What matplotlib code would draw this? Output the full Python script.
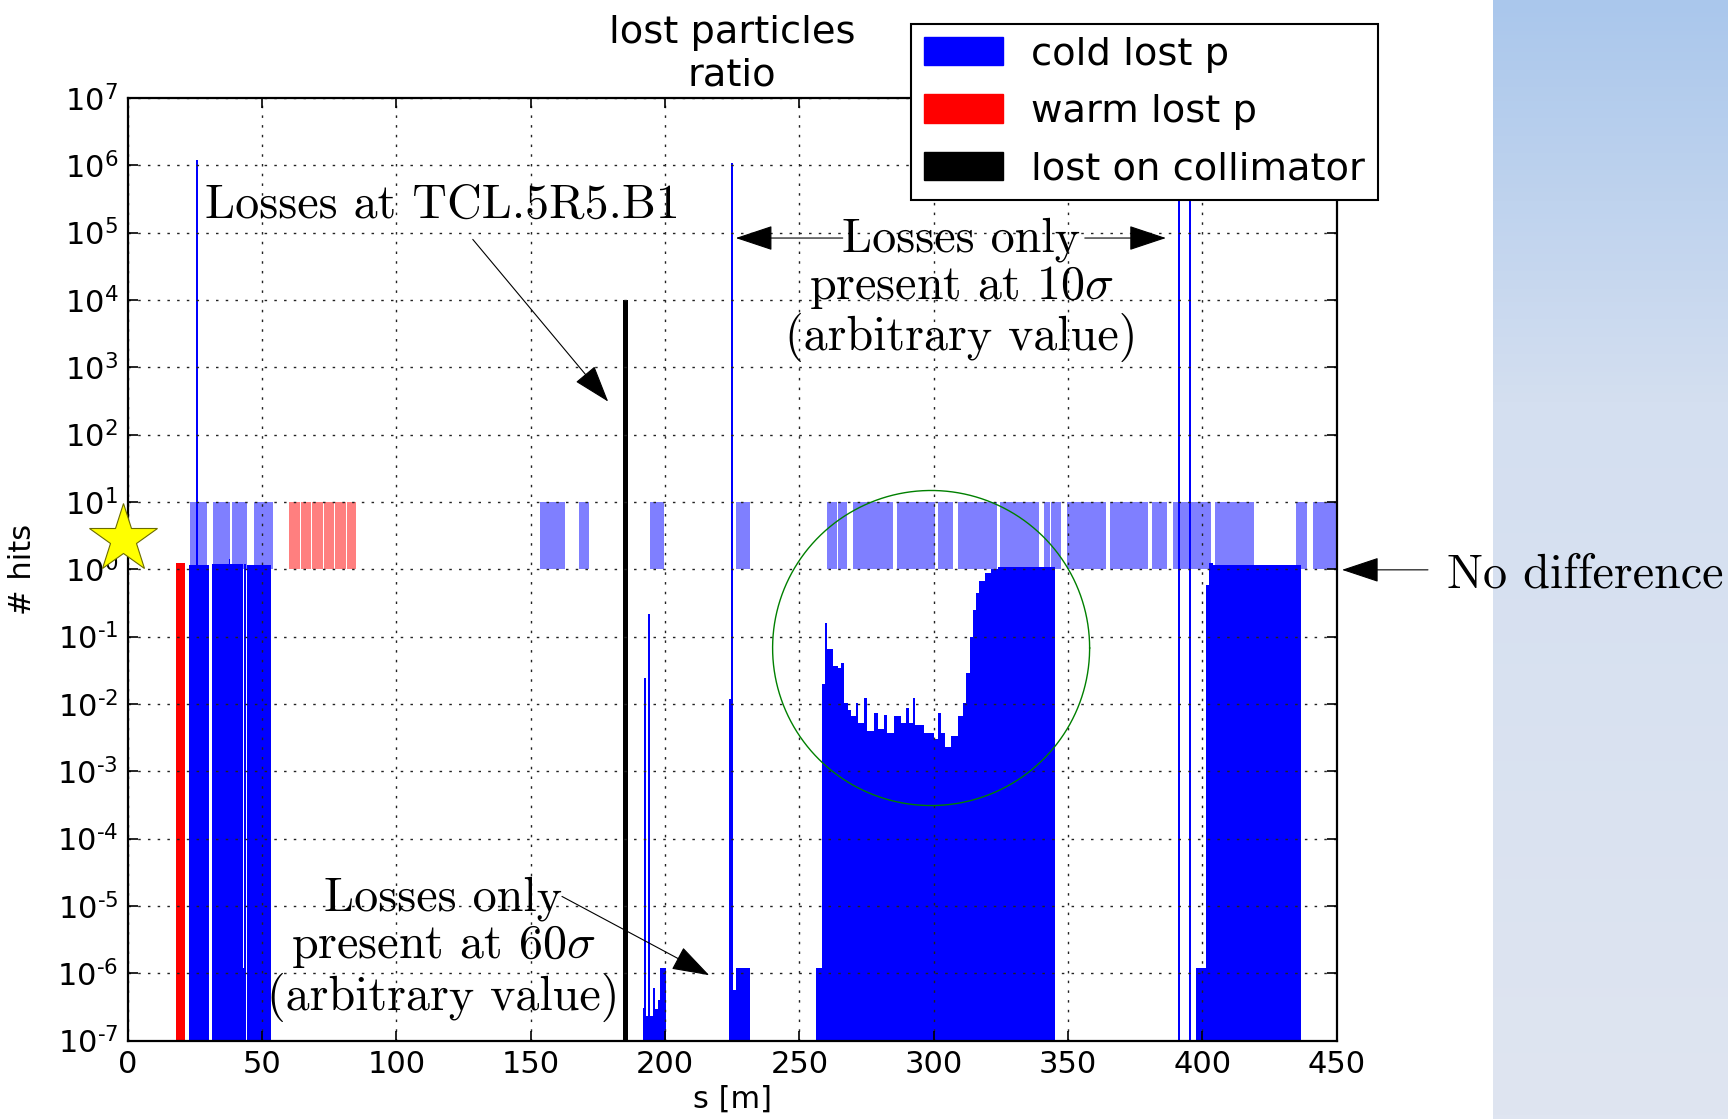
import numpy as np
import matplotlib
matplotlib.use("Agg")
import matplotlib.pyplot as plt
from matplotlib.patches import Patch
from matplotlib.ticker import FixedLocator, FuncFormatter, MultipleLocator
from matplotlib.colors import LinearSegmentedColormap

# ---------------- data ----------------
X_RANGE = (0, 450)
Y_RANGE = (1e-7, 1e7)

# warm lost p
warm_left = [18.0]
warm_right = [21.2]
warm_val = [1.22]

# cold lost p (histogram segments)
cold_left = [22.6, 25.5, 26.2, 31.3, 37.6, 38.2, 42.8, 43.1, 44.5,
             191.8, 192.2, 192.9, 193.5, 194.3, 195.3, 196.3, 197.4, 198.1,
             223.9, 224.7, 225.3, 226.4,
             256.3, 258.3, 259.4, 260.4, 262.6, 264.2, 265.5, 266.7, 268.0, 269.2,
             271.1, 271.7, 274.2, 275.2, 277.9, 279.1, 281.6, 282.6, 285.3, 287.8,
             289.7, 290.9, 292.2, 293.0, 296.5, 300.2, 301.7, 302.7, 304.0, 306.5,
             308.9, 310.8, 312.0, 313.3, 314.5, 315.8, 317.0, 318.9, 321.4, 323.9,
             390.8, 395.0, 397.5, 401.2, 402.4, 404.0]
cold_right = [25.5, 26.2, 30.4, 37.6, 38.2, 42.8, 43.1, 44.0, 53.2,
              192.2, 192.9, 193.5, 194.3, 195.3, 196.3, 197.4, 198.1, 200.2,
              224.7, 225.3, 226.4, 231.7,
              258.3, 259.4, 260.4, 262.6, 264.2, 265.5, 266.7, 268.0, 269.2, 271.1,
              271.7, 274.2, 275.2, 277.9, 279.1, 281.6, 282.6, 285.3, 287.8, 289.7,
              290.9, 292.2, 293.0, 296.5, 300.2, 301.7, 302.7, 304.0, 306.5, 308.9,
              310.8, 312.0, 313.3, 314.5, 315.8, 317.0, 318.9, 321.4, 323.9, 345.0,
              391.5, 395.7, 401.2, 402.4, 404.0, 436.8]
cold_val = [1.16, 1.2e6, 1.16, 1.18, 1.40, 1.18, 1.2e-6, 1.18, 1.16,
            3.0e-7, 0.024, 2.3e-7, 0.22, 2.3e-7, 6.0e-7, 2.9e-7, 4.0e-7, 1.2e-6,
            0.012, 1.1e6, 5.7e-7, 1.2e-6,
            1.2e-6, 0.020, 0.16, 0.065, 0.036, 0.034, 0.041, 0.0102, 0.0081, 0.0066,
            0.0102, 0.0052, 0.0123, 0.0039, 0.0072, 0.0042, 0.0069, 0.0037, 0.0066, 0.0052,
            0.0087, 0.0052, 0.0123, 0.0049, 0.0037, 0.0030, 0.0072, 0.0037, 0.0023, 0.0033,
            0.0066, 0.0102, 0.029, 0.10, 0.25, 0.44, 0.66, 0.87, 1.00, 1.07,
            1.1e6, 1.1e6, 1.2e-6, 0.58, 1.25, 1.14]

# lost on collimator
coll_pos = [185.2]
coll_width = [2.0]
coll_val = [1.0e4]

# "difference" markers between 10^0 and 10^1
DIFF_LOW, DIFF_HIGH = 1.0, 10.0
diff_cold_left = [23.1, 31.8, 38.9, 47.0, 153.5, 168.0, 194.5, 226.5, 260.4, 264.4,
                  270.1, 286.2, 301.7, 309.0, 324.8, 341.2, 343.7, 349.7, 365.5, 381.2,
                  389.0, 404.6, 434.8, 441.2]
diff_cold_right = [29.5, 37.9, 44.3, 53.9, 162.8, 171.5, 199.5, 231.5, 263.9, 267.7,
                   284.7, 300.5, 307.2, 323.6, 339.1, 343.2, 347.5, 364.0, 379.8, 386.7,
                   403.2, 419.0, 439.0, 450.0]
diff_warm_left = [60.1, 64.4, 68.7, 73.1, 77.3, 81.5]
diff_warm_right = [64.0, 68.3, 72.7, 76.9, 81.1, 85.0]

legend_labels = ["cold lost p", "warm lost p", "lost on collimator"]

# ---------------- figure ----------------
plt.rcParams["font.family"] = ["DejaVu Sans"]
plt.rcParams["axes.unicode_minus"] = False

fig = plt.figure(figsize=(17.28, 11.19), dpi=100)

# slide background panel on the right
bg = fig.add_axes([1493 / 1728, 0, 1 - 1493 / 1728, 1], zorder=-5)
cmap_bg = LinearSegmentedColormap.from_list(
    "bg", [(0.0, "#dfe5f1"), (0.64, "#d4dff0"), (1.0, "#aac7ec")])
bg.imshow(np.linspace(0, 1, 256).reshape(-1, 1), origin="lower", cmap=cmap_bg,
          aspect="auto", extent=[0, 1, 0, 1])
bg.set_axis_off()

ax = fig.add_axes([0.07396, 0.07015, 0.69965, 0.84227])
ax.set_yscale("log")

BLUE = "#0000ff"
RED = "#ff0000"

def edges(lft, rgt):
    lft = np.asarray(lft, float)
    return lft, np.asarray(rgt, float) - lft

# light difference bands
l, w = edges(diff_cold_left, diff_cold_right)
ax.bar(l, DIFF_HIGH - DIFF_LOW, width=w, bottom=DIFF_LOW, align="edge",
       color=BLUE, alpha=0.5, linewidth=0, zorder=0.8)
l, w = edges(diff_warm_left, diff_warm_right)
ax.bar(l, DIFF_HIGH - DIFF_LOW, width=w, bottom=DIFF_LOW, align="edge",
       color=RED, alpha=0.5, linewidth=0, zorder=0.8)

# loss histograms
ymin = Y_RANGE[0]
l, w = edges(cold_left, cold_right)
ax.bar(l, np.asarray(cold_val) - ymin, width=w, bottom=ymin, align="edge",
       color=BLUE, linewidth=0, zorder=1)
l, w = edges(warm_left, warm_right)
ax.bar(l, np.asarray(warm_val) - ymin, width=w, bottom=ymin, align="edge",
       color=RED, linewidth=0, zorder=1)
ax.bar(coll_pos, np.asarray(coll_val) - ymin, width=coll_width, bottom=ymin,
       align="center", color="black", linewidth=0, zorder=1.1)

# green circle
t = np.linspace(0, 2 * np.pi, 500)
ax.plot(299.0 + 59.0 * np.cos(t), 10 ** (-1.17 + 2.34 * np.sin(t)),
        color="#008000", lw=1.0, zorder=2)

ax.set_xlim(*X_RANGE)
ax.set_ylim(*Y_RANGE)

# ticks, grid
ax.xaxis.set_major_locator(MultipleLocator(50))
ax.yaxis.set_major_locator(FixedLocator([10.0 ** k for k in range(-7, 8)]))
ax.yaxis.set_minor_locator(FixedLocator([]))

def logfmt(v, pos):
    e = int(round(np.log10(v)))
    if e < 0:
        return r"$\mathdefault{10^{\text{-}%d}}$" % (-e)
    return r"$\mathdefault{10^{%d}}$" % e

ax.yaxis.set_major_formatter(FuncFormatter(logfmt))
ax.tick_params(which="both", direction="in", top=True, right=True,
               length=7, width=1.2, labelsize=22, pad=7, colors="black")
ax.tick_params(axis="y", which="minor", length=0)
for sp in ax.spines.values():
    sp.set_linewidth(1.6)
ax.grid(True, which="major", color="#222222", linestyle=(0, (1.8, 5.2)), linewidth=1.0)

ax.set_title("lost particles\nratio", fontsize=27.6, pad=9, linespacing=1.25)
ax.set_ylabel("# hits", fontsize=22)
ax.set_xlabel("s [m]", fontsize=22)
ax.yaxis.set_label_coords(-0.0747, 0.5)
ax.xaxis.set_label_coords(0.5, -0.047)
ax.xaxis.label.set_va("top")

# legend
handles = [Patch(facecolor=BLUE, edgecolor=BLUE),
           Patch(facecolor=RED, edgecolor=RED),
           Patch(facecolor="black", edgecolor="black")]
leg = fig.legend(handles, legend_labels, loc="upper right",
                 bbox_to_anchor=(1378 / 1728, 1 - 24 / 1119),
                 bbox_transform=fig.transFigure, fontsize=27.7, frameon=True,
                 fancybox=False, framealpha=1, edgecolor="black",
                 borderpad=0.33, handlelength=2.05, handleheight=0.75,
                 handletextpad=0.75, labelspacing=0.55, borderaxespad=0)
leg.get_frame().set_linewidth(1.5)

# star
ax.plot([-1.8], [2.86], marker="*", markersize=52, color="#ffff00",
        markeredgecolor="#6b6b00", markeredgewidth=0.8, clip_on=False, zorder=6)

# annotations
SERIF = dict(fontfamily="cmr10", math_fontfamily="cm", fontsize=34.6, color="black")
ARW = dict(arrowstyle="-|>,head_length=1.2,head_width=0.4", mutation_scale=20,
           lw=0.8, color="black", shrinkA=0, shrinkB=0)

ax.text(28.7, 10 ** 5.22, "Losses at TCL.5R5.B1", ha="left", va="baseline", **SERIF)
ax.annotate("", xy=(178.8, 10 ** 2.49), xytext=(128.4, 10 ** 4.90), arrowprops=ARW)

ax.text(310.1, 10 ** 4.15, "Losses only\npresent at 10$\\sigma$\n(arbitrary value)",
        ha="center", va="center", multialignment="center", linespacing=1.06, **SERIF)
ax.annotate("", xy=(226.3, 10 ** 4.92), xytext=(266.1, 10 ** 4.92), arrowprops=ARW)
ax.annotate("", xy=(386.4, 10 ** 4.92), xytext=(356.2, 10 ** 4.92), arrowprops=ARW)

ax.text(117.3, 10 ** -5.64, "Losses only\npresent at 60$\\sigma$\n(arbitrary value)",
        ha="center", va="center", multialignment="center", linespacing=1.06, **SERIF)
ax.annotate("", xy=(216.4, 10 ** -6.03), xytext=(161.6, 10 ** -4.86), arrowprops=ARW)

ytr = ax.get_yaxis_transform()
ax.annotate("", xy=(1.0043, 0.98), xycoords=ytr, xytext=(1.0754, 0.98),
            textcoords=ytr, arrowprops=ARW, annotation_clip=False)
ax.text(1.091, 0.53, "No difference", transform=ytr, ha="left", va="baseline",
        clip_on=False, **SERIF)

fig.savefig("out.png", dpi=100)
